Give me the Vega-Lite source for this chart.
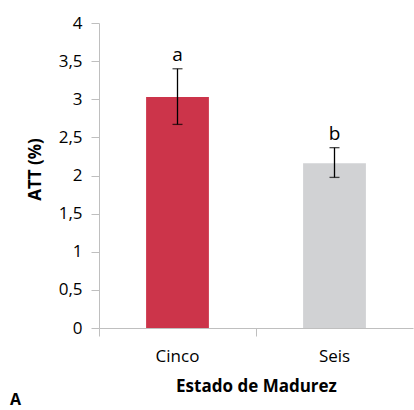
{
  "$schema": "https://vega.github.io/schema/vega-lite/v6.json",
  "width": 314,
  "height": 305,
  "autosize": {"type": "none"},
  "padding": {"left": 99, "top": 23, "right": 1, "bottom": 82},
  "background": "white",
  "config": {
    "view": {"stroke": null},
    "font": "Open Sans",
    "axis": {"grid": false, "domainColor": "#BFBFBF", "tickColor": "#BFBFBF", "labelColor": "#000000", "titleColor": "#000000", "labelFont": "Open Sans", "titleFont": "Open Sans", "labelFontSize": 17, "titleFontSize": 17, "titleFontWeight": "bold"}
  },
  "title": {"text": "A", "orient": "bottom", "anchor": "start", "frame": "group", "dx": -89, "offset": -2, "fontSize": 16, "fontWeight": "bold", "font": "Open Sans", "color": "#000000"},
  "data": {
    "values": [
      {"estado": "Cinco", "att": 3.03, "lo": 2.67, "hi": 3.40, "letra": "a"},
      {"estado": "Seis", "att": 2.16, "lo": 1.975, "hi": 2.365, "letra": "b"}
    ]
  },
  "encoding": {
    "x": {"field": "estado", "type": "nominal", "sort": null,
      "scale": {"paddingInner": 0.6, "paddingOuter": 0.3},
      "axis": {"title": "Estado de Madurez", "labelAngle": 0, "bandPosition": -0.75, "labelOffset": 0, "tickSize": 8, "labelPadding": 12, "titlePadding": 14}
    }
  },
  "layer": [
    {
      "mark": {"type": "bar"},
      "encoding": {
        "y": {"field": "att", "type": "quantitative",
          "scale": {"domain": [0, 4]},
          "axis": {"title": "ATT (%)", "values": [0, 0.5, 1, 1.5, 2, 2.5, 3, 3.5, 4], "labelOverlap": false, "labelExpr": "replace(format(datum.value, '.1~f'), '.', ',')", "tickSize": 8, "labelPadding": 9, "titlePadding": 14, "titleY": 146}
        },
        "color": {"field": "estado", "type": "nominal", "scale": {"domain": ["Cinco", "Seis"], "range": ["#CC344A", "#D1D2D4"]}, "legend": null}
      }
    },
    {
      "mark": {"type": "rule", "color": "#000000", "strokeWidth": 1.3},
      "encoding": {"y": {"field": "lo", "type": "quantitative", "scale": {"domain": [0, 4]},
          "axis": {"title": "ATT (%)", "values": [0, 0.5, 1, 1.5, 2, 2.5, 3, 3.5, 4], "labelOverlap": false, "labelExpr": "replace(format(datum.value, '.1~f'), '.', ',')", "tickSize": 8, "labelPadding": 9, "titlePadding": 14, "titleY": 146}}, "y2": {"field": "hi"}}
    },
    {
      "mark": {"type": "tick", "color": "#000000", "thickness": 1.3, "size": 10, "orient": "horizontal"},
      "encoding": {"y": {"field": "lo", "type": "quantitative", "scale": {"domain": [0, 4]},
          "axis": {"title": "ATT (%)", "values": [0, 0.5, 1, 1.5, 2, 2.5, 3, 3.5, 4], "labelOverlap": false, "labelExpr": "replace(format(datum.value, '.1~f'), '.', ',')", "tickSize": 8, "labelPadding": 9, "titlePadding": 14, "titleY": 146}}}
    },
    {
      "mark": {"type": "tick", "color": "#000000", "thickness": 1.3, "size": 10, "orient": "horizontal"},
      "encoding": {"y": {"field": "hi", "type": "quantitative", "scale": {"domain": [0, 4]},
          "axis": {"title": "ATT (%)", "values": [0, 0.5, 1, 1.5, 2, 2.5, 3, 3.5, 4], "labelOverlap": false, "labelExpr": "replace(format(datum.value, '.1~f'), '.', ',')", "tickSize": 8, "labelPadding": 9, "titlePadding": 14, "titleY": 146}}}
    },
    {
      "mark": {"type": "text", "dy": -14, "fontSize": 19, "font": "Open Sans", "color": "#000000"},
      "encoding": {"y": {"field": "hi", "type": "quantitative", "scale": {"domain": [0, 4]},
          "axis": {"title": "ATT (%)", "values": [0, 0.5, 1, 1.5, 2, 2.5, 3, 3.5, 4], "labelOverlap": false, "labelExpr": "replace(format(datum.value, '.1~f'), '.', ',')", "tickSize": 8, "labelPadding": 9, "titlePadding": 14, "titleY": 146}}, "text": {"field": "letra"}}
    }
  ]
}
